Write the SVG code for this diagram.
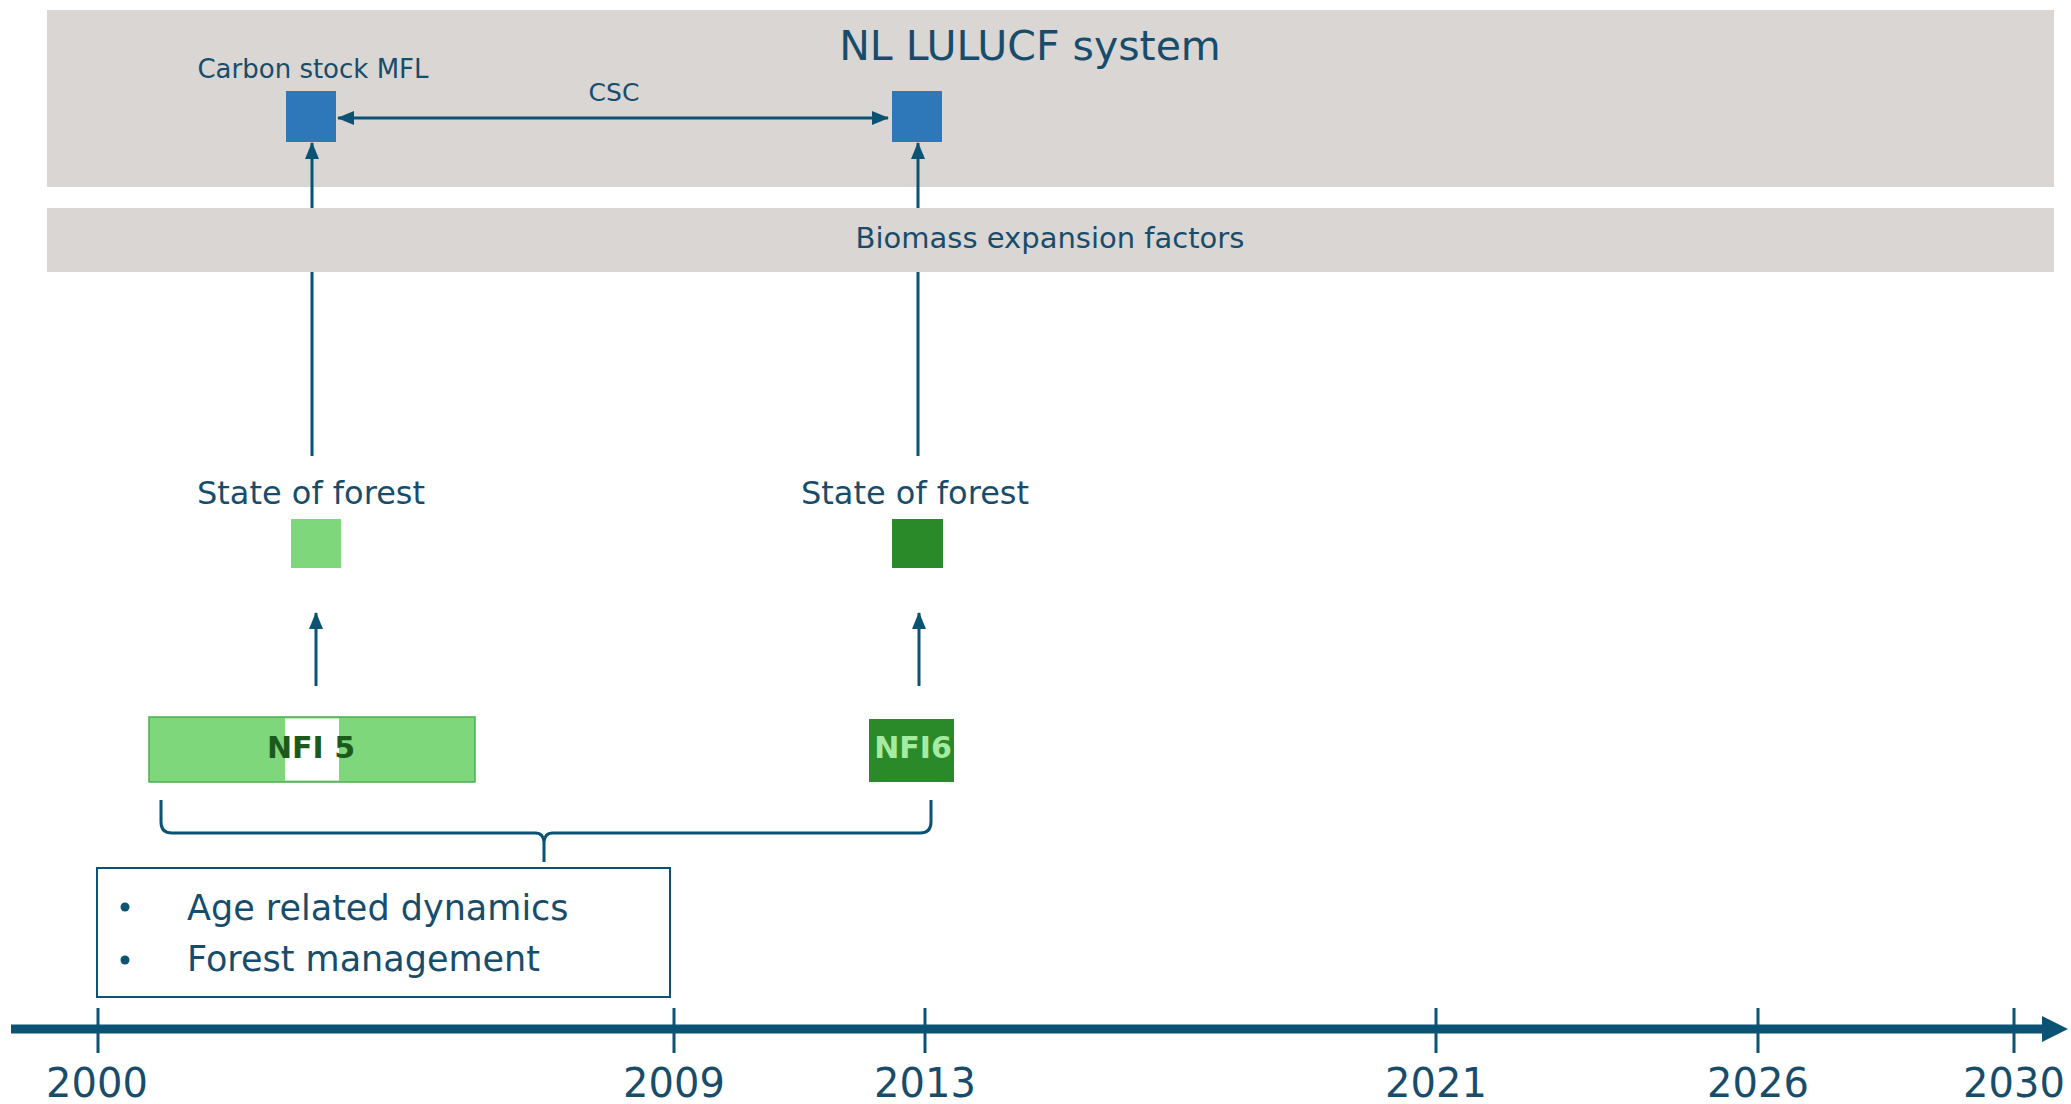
<svg xmlns="http://www.w3.org/2000/svg" width="2071" height="1104" viewBox="0 0 2071 1104">
  <style>
    .band { fill: #dad6d3; }
    .lbl { font-family: "DejaVu Sans", Verdana, sans-serif; fill: #174d6b; }
    .mid { text-anchor: middle; }
    .bold { font-weight: bold; }
    .conn { stroke: #0b5374; fill: none; stroke-width: 3; }
    .blue { fill: #2e78ba; }
  </style>
  <defs>
    <marker id="head" viewBox="0 0 17 14" refX="16" refY="7" markerWidth="17" markerHeight="14" markerUnits="userSpaceOnUse" orient="auto-start-reverse">
      <path d="M0,0 L17,7 L0,14 Z" fill="#0b5374"/>
    </marker>
  </defs>

  <rect width="2071" height="1104" fill="#ffffff"/>

  <!-- system band -->
  <g id="lulucf-system">
    <rect class="band" x="47" y="10" width="2007" height="177"/>
    <text class="lbl mid" x="1030" y="60" font-size="41">NL LULUCF system</text>
  </g>

  <!-- connectors -->
  <g id="connectors">
    <line class="conn" x1="338" y1="118" x2="888" y2="118" stroke-width="4" marker-start="url(#head)" marker-end="url(#head)"/>
    <line class="conn" x1="312" y1="456" x2="312" y2="272"/>
    <line class="conn" x1="312" y1="208" x2="312" y2="143" marker-end="url(#head)"/>
    <line class="conn" x1="918" y1="456" x2="918" y2="272"/>
    <line class="conn" x1="918" y1="208" x2="918" y2="143" marker-end="url(#head)"/>
    <line class="conn" x1="316" y1="686" x2="316" y2="613" marker-end="url(#head)"/>
    <line class="conn" x1="919" y1="686" x2="919" y2="613" marker-end="url(#head)"/>
    <!-- brace spanning NFI5 to NFI6 -->
    <path class="conn" stroke-width="4" d="M161,800 L161,822 Q161,833 172,833 L536,833 Q543,833 544,842 L544,862 M544,842 Q545,833 552,833 L920,833 Q931,833 931,822 L931,800"/>
  </g>

  <g id="biomass-expansion-factors">
    <rect class="band" x="47" y="208" width="2007" height="64"/>
    <text class="lbl mid" x="1050" y="248" font-size="29">Biomass expansion factors</text>
  </g>

  <g id="carbon-stock-mfl">
    <rect class="blue" x="286" y="91" width="50" height="51"/>
    <text class="lbl mid" x="313" y="78" font-size="26">Carbon stock MFL</text>
  </g>

  <g id="csc-label">
    <text class="lbl mid" x="614" y="101" font-size="25">CSC</text>
  </g>

  <g id="carbon-stock-2013">
    <rect class="blue" x="892" y="91" width="50" height="51"/>
  </g>

  <g id="state-of-forest-nfi5">
    <text class="lbl mid" x="311" y="504" font-size="32">State of forest</text>
    <rect x="291" y="519" width="50" height="49" fill="#7ed87b"/>
  </g>

  <g id="state-of-forest-nfi6">
    <text class="lbl mid" x="915" y="504" font-size="32">State of forest</text>
    <rect x="892" y="519" width="51" height="49" fill="#2a8a2a"/>
  </g>

  <g id="nfi5">
    <rect x="149" y="717" width="326" height="65" fill="#7ed87b" stroke="#4caf4c" stroke-width="1.5"/>
    <rect x="285" y="718.5" width="54" height="62" fill="#ffffff"/>
    <text class="lbl mid bold" x="311" y="758" font-size="30" style="fill:#1b5a1b">NFI 5</text>
  </g>

  <g id="nfi6">
    <rect x="869" y="719" width="85" height="63" fill="#2a8a2a"/>
    <text class="lbl mid bold" x="913" y="758" font-size="30" style="fill:#a6eba2">NFI6</text>
  </g>

  <g id="drivers">
    <rect x="97" y="868" width="573" height="129" fill="#ffffff" stroke="#0b5374" stroke-width="2"/>
    <circle cx="125" cy="907" r="4.5" fill="#0b5374"/>
    <circle cx="125" cy="960" r="4.5" fill="#0b5374"/>
    <text class="lbl" x="187" y="920" font-size="35">Age related dynamics</text>
    <text class="lbl" x="187" y="971" font-size="35">Forest management</text>
  </g>

  <!-- time axis -->
  <g id="timeline">
    <line x1="11" y1="1029" x2="2044" y2="1029" stroke="#0b5374" stroke-width="9"/>
    <polygon points="2042,1016 2068,1029 2042,1042" fill="#0b5374"/>
    <g stroke="#0b5374" stroke-width="3">
      <line x1="98" y1="1008" x2="98" y2="1053"/>
      <line x1="674" y1="1008" x2="674" y2="1053"/>
      <line x1="925" y1="1008" x2="925" y2="1053"/>
      <line x1="1436" y1="1008" x2="1436" y2="1053"/>
      <line x1="1758" y1="1008" x2="1758" y2="1053"/>
      <line x1="2014" y1="1008" x2="2014" y2="1053"/>
    </g>
    <g class="lbl mid" font-size="40">
      <text x="97" y="1097">2000</text>
      <text x="674" y="1097">2009</text>
      <text x="925" y="1097">2013</text>
      <text x="1436" y="1097">2021</text>
      <text x="1758" y="1097">2026</text>
      <text x="2014" y="1097">2030</text>
    </g>
  </g>
</svg>
